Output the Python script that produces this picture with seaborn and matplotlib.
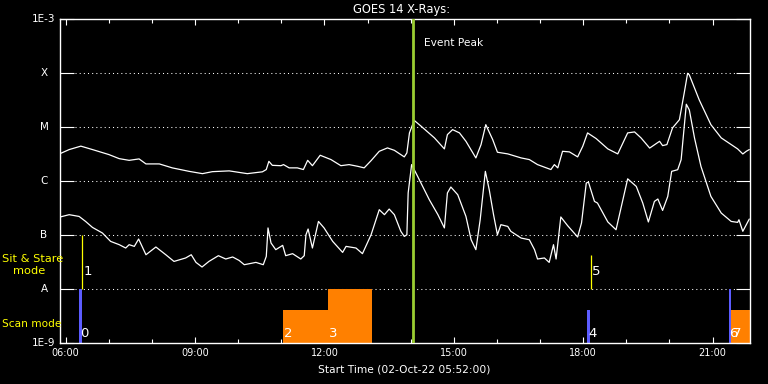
import matplotlib
matplotlib.use("Agg")
import matplotlib.pyplot as plt
import matplotlib.transforms as mtrans
from matplotlib.ticker import FixedLocator, NullLocator
import seaborn as sns
import pandas as pd

# ---------------- data (hours of 02-Oct-22, flux W/m^2) ----------------
long_hours = [5.87, 6.08, 6.35, 6.62, 7.00, 7.24, 7.47, 7.70, 7.86, 8.17, 8.47, 8.86, 9.17, 9.40,
              9.79, 10.21, 10.56, 10.65, 10.71, 10.79, 10.99, 11.05, 11.18, 11.37, 11.51, 11.61,
              11.72, 11.90, 12.15, 12.38, 12.57, 12.77, 12.92, 13.08, 13.27, 13.46, 13.62, 13.85,
              13.91, 13.97, 14.08, 14.24, 14.55, 14.78, 14.85, 14.97, 15.13, 15.28, 15.51, 15.63,
              15.74, 15.90, 16.01, 16.25, 16.56, 16.75, 16.94, 17.25, 17.33, 17.41, 17.52, 17.68,
              17.87, 17.99, 18.10, 18.30, 18.57, 18.80, 19.03, 19.19, 19.34, 19.54, 19.77, 19.84,
              19.94, 20.07, 20.23, 20.34, 20.42, 20.46, 20.69, 20.96, 21.20, 21.58, 21.70, 21.78,
              21.85]
long_flux = [3.2e-6, 3.8e-6, 4.4e-6, 3.8e-6, 3.07e-6, 2.58e-6, 2.40e-6, 2.55e-6, 2.06e-6, 2.06e-6,
             1.74e-6, 1.50e-6, 1.36e-6, 1.48e-6, 1.53e-6, 1.36e-6, 1.47e-6, 1.62e-6, 2.30e-6,
             1.94e-6, 1.91e-6, 2.0e-6, 1.74e-6, 1.74e-6, 1.62e-6, 2.40e-6, 1.91e-6, 2.98e-6,
             2.48e-6, 1.91e-6, 2.0e-6, 1.86e-6, 1.74e-6, 2.37e-6, 3.53e-6, 4.08e-6, 3.68e-6,
             2.78e-6, 3.30e-6, 7.74e-6, 1.32e-5, 1.03e-5, 6.25e-6, 3.91e-6, 7.2e-6, 8.9e-6,
             7.74e-6, 5.41e-6, 2.66e-6, 4.70e-6, 1.10e-5, 5.82e-6, 3.39e-6, 3.16e-6, 2.66e-6,
             2.48e-6, 2.0e-6, 1.62e-6, 2.0e-6, 1.74e-6, 3.53e-6, 3.44e-6, 2.78e-6, 4.4e-6,
             7.74e-6, 6.07e-6, 3.91e-6, 3.16e-6, 7.74e-6, 8.07e-6, 6.25e-6, 4.05e-6, 5.41e-6,
             4.5e-6, 4.7e-6, 9.58e-6, 1.36e-5, 4.2e-5, 9.87e-5, 9.18e-5, 3.16e-5, 1.10e-5,
             6.25e-6, 3.91e-6, 3.15e-6, 3.53e-6, 3.8e-6]

short_hours = [5.87, 6.08, 6.31, 6.46, 6.62, 6.85, 7.04, 7.24, 7.39, 7.47, 7.59, 7.69, 7.86, 8.09,
               8.32, 8.51, 8.78, 8.91, 9.02, 9.16, 9.32, 9.54, 9.71, 9.87, 10.02, 10.14, 10.41,
               10.58, 10.65, 10.69, 10.76, 10.87, 11.03, 11.10, 11.26, 11.45, 11.53, 11.57, 11.62,
               11.72, 11.86, 11.99, 12.19, 12.42, 12.50, 12.73, 12.88, 13.08, 13.27, 13.39, 13.50,
               13.62, 13.77, 13.85, 13.91, 13.94, 14.02, 14.16, 14.43, 14.63, 14.78, 14.85, 14.93,
               15.09, 15.28, 15.40, 15.51, 15.61, 15.73, 15.82, 15.92, 16.01, 16.09, 16.25, 16.32,
               16.56, 16.75, 16.87, 16.94, 17.10, 17.21, 17.31, 17.37, 17.48, 17.64, 17.87, 17.96,
               18.07, 18.12, 18.26, 18.33, 18.57, 18.76, 19.03, 19.23, 19.38, 19.51, 19.65, 19.73,
               19.84, 19.96, 20.05, 20.19, 20.27, 20.39, 20.46, 20.58, 20.73, 20.96, 21.20, 21.43,
               21.58, 21.61, 21.70, 21.85]
short_flux = [2.14e-7, 2.36e-7, 2.19e-7, 1.77e-7, 1.37e-7, 1.08e-7, 7.55e-8, 6.56e-8, 5.69e-8,
              6.56e-8, 6.1e-8, 8.36e-8, 4.27e-8, 5.94e-8, 4.27e-8, 3.21e-8, 3.72e-8, 4.27e-8,
              3.08e-8, 2.53e-8, 3.21e-8, 4.1e-8, 3.56e-8, 3.88e-8, 3.35e-8, 2.79e-8, 3.08e-8,
              2.79e-8, 3.98e-8, 1.34e-7, 7.05e-8, 5.3e-8, 6.37e-8, 4.1e-8, 4.47e-8, 3.56e-8,
              4.1e-8, 1.0e-7, 1.28e-7, 5.69e-8, 1.77e-7, 1.34e-7, 7.55e-8, 4.72e-8, 6.1e-8,
              5.69e-8, 4.47e-8, 1.0e-7, 2.92e-7, 2.36e-7, 3.0e-7, 2.36e-7, 1.16e-7, 9.34e-8,
              1.0e-7, 5.96e-7, 2.0e-6, 1.21e-6, 4.48e-7, 2.36e-7, 1.34e-7, 5.96e-7, 7.69e-7,
              5.53e-7, 2.19e-7, 8.1e-8, 5.3e-8, 1.9e-7, 1.5e-6, 6.85e-7, 2.36e-7, 1.0e-7,
              1.54e-7, 1.43e-7, 1.16e-7, 8.7e-8, 8.1e-8, 5.3e-8, 3.56e-8, 3.72e-8, 3.08e-8,
              6.56e-8, 3.56e-8, 2.14e-7, 1.47e-7, 9.1e-8, 1.66e-7, 9.1e-7, 9.5e-7, 4.16e-7,
              3.88e-7, 1.73e-7, 1.24e-7, 1.09e-6, 7.88e-7, 3.88e-7, 1.73e-7, 4.16e-7, 4.61e-7,
              2.83e-7, 5.15e-7, 1.5e-6, 1.61e-6, 2.47e-6, 2.63e-5, 2.06e-5, 6.22e-6, 1.85e-6,
              5.15e-7, 2.53e-7, 1.77e-7, 1.7e-7, 1.9e-7, 1.16e-7, 1.96e-7]

# observing modes
blue_ids = ["0", "4", "6"]
blue_start = [6.31, 18.095, 21.37]
blue_end = [6.385, 18.16, 21.43]
blue_top = [1e-8, 4e-9, 1e-8]

orange_ids = ["2", "3", "7"]
orange_start = [11.035, 12.07, 21.43]
orange_end = [12.07, 13.09, 21.87]
orange_top = [4e-9, 1e-8, 4e-9]

stare_ids = ["1", "5"]
stare_time = [6.385, 18.17]
stare_top = [1e-7, 4.2e-8]

event_peak = 14.05
t_start, t_end = 5.8667, 21.8667

level_values = [1e-3, 1e-4, 1e-5, 1e-6, 1e-7, 1e-8, 1e-9]
level_labels = ["1E-3", "X", "M", "C", "B", "A", "1E-9"]
major_hours = [6, 9, 12, 15, 18, 21]
major_labels = ["06:00", "09:00", "12:00", "15:00", "18:00", "21:00"]
minor_hours = list(range(6, 22))

# ---------------- style ----------------
sns.set_theme(style="dark", rc={
    "axes.facecolor": "black", "figure.facecolor": "black",
    "axes.edgecolor": "white", "text.color": "white",
    "xtick.color": "white", "ytick.color": "white", "axes.labelcolor": "white",
    "axes.linewidth": 1.0,
})
plt.rcParams["font.family"] = ["DejaVu Sans"]

W, H = 768, 384
fig = plt.figure(figsize=(W / 100, H / 100), dpi=100)
ax = fig.add_axes([60 / W, 1 - 342.7 / H, 690 / W, 323.7 / H])

df = pd.concat([
    pd.DataFrame({"hour": long_hours, "flux": long_flux, "channel": "long"}),
    pd.DataFrame({"hour": short_hours, "flux": short_flux, "channel": "short"}),
])
sns.lineplot(data=df, x="hour", y="flux", hue="channel", estimator=None, sort=False,
             palette={"long": "white", "short": "white"}, legend=False, lw=0.9, ax=ax)

ax.set_yscale("log")
ax.set_ylim(1e-9, 1e-3)
ax.set_xlim(t_start, t_end)
ax.set_xlabel("")
ax.set_ylabel("")

# grid lines
for lv in level_values[1:-1]:
    ax.axhline(lv, xmin=15 / 690, xmax=1 - 15 / 690, color="white", lw=0.75,
               ls=(0, (1, 3)), zorder=1)

# mode bars
ax.bar(blue_start, [t - b for t, b in zip(blue_top, [1e-9] * 3)], bottom=1e-9,
       width=[e - s for s, e in zip(blue_start, blue_end)], align="edge",
       color="#5c5cff", lw=0, zorder=2)
ax.bar(orange_start, [t - 1e-9 for t in orange_top], bottom=1e-9,
       width=[e - s for s, e in zip(orange_start, orange_end)], align="edge",
       color="#ff8000", lw=0, zorder=2)
ax.vlines(stare_time, [1e-8] * len(stare_time), stare_top, color="yellow", lw=0.9, zorder=2)

for i, s in zip(blue_ids, blue_start):
    ax.annotate(i, (s, 1.5e-9), xytext=(0.7, 0), textcoords="offset points",
                ha="left", va="center", fontsize=9.5, color="white", zorder=5)
for i, s in zip(orange_ids, orange_start):
    ax.annotate(i, (s, 1.5e-9), xytext=(1.0, 0), textcoords="offset points",
                ha="left", va="center", fontsize=9.5, color="white", zorder=5)
for i, s in zip(stare_ids, stare_time):
    ax.annotate(i, (s, 2.07e-8), xytext=(1.0, 0), textcoords="offset points",
                ha="left", va="center", fontsize=9.5, color="white", zorder=5)

# event peak
ax.axvline(event_peak, color="#9acd32", lw=2.0, zorder=4)
ax.text(14.30, 3.6e-4, "Event Peak", fontsize=7.7, color="white", ha="left", va="center")

# ticks
ax.xaxis.set_major_locator(FixedLocator(major_hours))
ax.xaxis.set_minor_locator(FixedLocator(minor_hours))
ax.set_xticklabels(major_labels)
ax.tick_params(axis="x", which="major", direction="in", length=4.5, width=0.8,
               top=True, bottom=True, labelsize=7, pad=4, colors="white")
ax.tick_params(axis="x", which="minor", direction="in", length=3, width=0.8,
               top=True, bottom=True)
ax.set_yticks(level_values)
ax.yaxis.set_minor_locator(NullLocator())
ax.set_yticklabels([])
ax.tick_params(axis="y", which="major", direction="in", length=10, width=0.8,
               left=True, right=True, labelleft=False)

trans = mtrans.blended_transform_factory(fig.transFigure, ax.transData)
for v, lab in zip(level_values, level_labels):
    ax.text(44 / W, v, lab, transform=trans, ha="center", va="center", fontsize=7.5,
            color="white")

for sp in ax.spines.values():
    sp.set_color("white")
    sp.set_linewidth(1.0)

# texts
fig.text(402 / W, 1 - 10 / H, "GOES 14 X-Rays:", ha="center", va="center", fontsize=8.3,
         color="white")
fig.text(404 / W, 1 - 369 / H, "Start Time (02-Oct-22 05:52:00)", ha="center", va="center",
         fontsize=7.7, color="white")
fig.text(2 / W, 1 - 259 / H, "Sit & Stare", ha="left", va="center", fontsize=8.2, color="yellow")
fig.text(13 / W, 1 - 271 / H, "mode", ha="left", va="center", fontsize=8.2, color="yellow")
fig.text(2 / W, 1 - 324 / H, "Scan mode", ha="left", va="center", fontsize=7.6, color="yellow")

fig.savefig("out.png", dpi=100, facecolor="black")
